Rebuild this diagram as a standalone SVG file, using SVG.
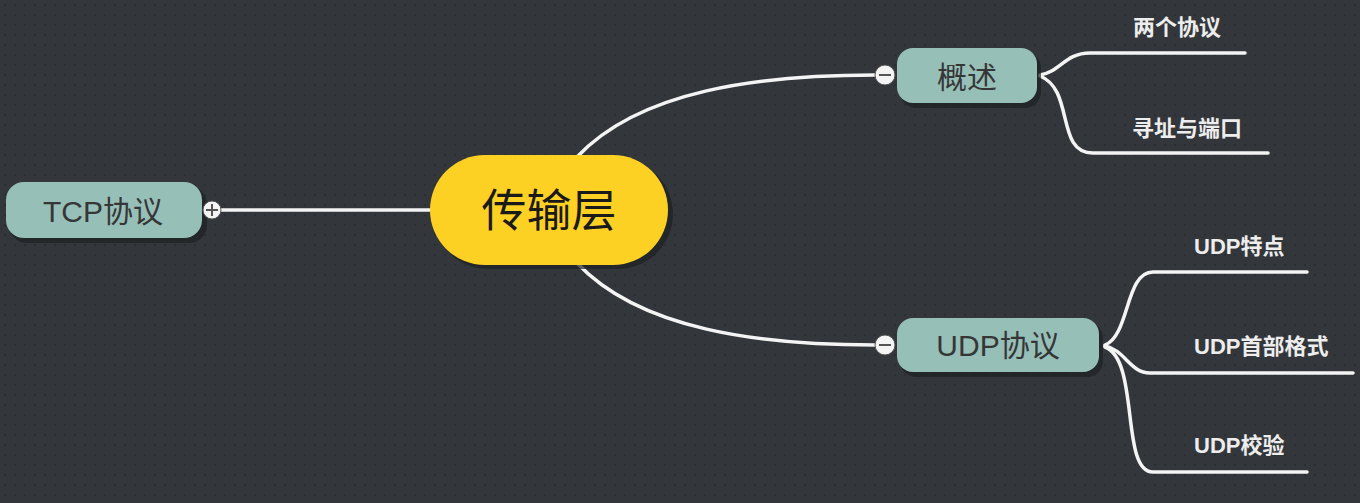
<svg xmlns="http://www.w3.org/2000/svg" width="1360" height="503" viewBox="0 0 1360 503">
<style>
.bg{fill:#33373b}
.topic{fill:#96bfb8}
.shadow{fill:#1e2124;opacity:0.7}
.ttext{font-family:"Liberation Sans","Noto Sans CJK SC",sans-serif;font-size:30px;fill:#363636;text-anchor:middle}
.ctext{font-family:"Noto Sans CJK SC",sans-serif;font-size:45px;fill:#1a1a1a;text-anchor:middle}
.stext{font-family:"Liberation Sans","Noto Sans CJK SC",sans-serif;font-size:22px;font-weight:bold;fill:#ededed}
.conn{fill:none;stroke:#f4f4f4;stroke-width:3.5;stroke-linecap:round}
.btn{fill:#f4f4f4;stroke:#555;stroke-width:1}
.btnline{stroke:#555;stroke-width:2}
</style>
<defs>
<pattern id="dots" width="10" height="10" patternUnits="userSpaceOnUse">
<rect x="4" y="4" width="2" height="2" fill="#2b2e31"/>
</pattern>
</defs>
<rect class="bg" x="0" y="0" width="1360" height="503"/>
<rect x="0" y="0" width="1360" height="503" fill="url(#dots)"/>

<g id="connectors">
<path class="conn" d="M221,210 L432,210"/>
<path class="conn" d="M577,157 C640,90 760,75 875,75"/>
<path class="conn" d="M577,263 C640,330 760,345 875,345"/>
<path class="conn" d="M1040,75 C1060,72 1065,53 1090,53 L1245,53"/>
<path class="conn" d="M1040,76 C1075,90 1055,153 1093,153 L1268,153"/>
<path class="conn" d="M1105,345 C1130,335 1125,272 1153,272 L1307,272"/>
<path class="conn" d="M1105,346 C1125,350 1130,373 1150,373 L1353,373"/>
<path class="conn" d="M1105,347 C1140,360 1120,472 1153,472 L1307,472"/>
</g>

<g id="tcp">
<rect class="shadow" x="9" y="186" width="198" height="57" rx="18"/>
<rect class="topic" x="6" y="182" width="196" height="56" rx="18"/>
<text class="ttext" x="103" y="222">TCP协议</text>
<circle class="btn" cx="212" cy="210" r="9"/>
<line class="btnline" x1="206" y1="210" x2="218" y2="210"/>
<line class="btnline" x1="212" y1="204" x2="212" y2="216"/>
</g>

<g id="center">
<rect class="shadow" x="433" y="159" width="240" height="110" rx="55"/>
<rect x="430" y="155" width="238" height="110" rx="55" fill="#fdd124"/>
<text class="ctext" x="549" y="227">传输层</text>
</g>

<g id="gaishu">
<rect class="shadow" x="900" y="52" width="141" height="56" rx="16"/>
<rect class="topic" x="897" y="48" width="140" height="55" rx="16"/>
<text class="ttext" x="967" y="88">概述</text>
<circle class="btn" cx="885" cy="75" r="10"/>
<line class="btnline" x1="879" y1="75" x2="891" y2="75"/>
</g>

<g id="udp">
<rect class="shadow" x="900" y="322" width="203" height="55" rx="16"/>
<rect class="topic" x="897" y="318" width="202" height="54" rx="16"/>
<text class="ttext" x="998" y="356">UDP协议</text>
<circle class="btn" cx="885" cy="345" r="10"/>
<line class="btnline" x1="879" y1="345" x2="891" y2="345"/>
</g>

<g id="liangge"><text class="stext" x="1133" y="35">两个协议</text></g>
<g id="xunzhi"><text class="stext" x="1132" y="136">寻址与端口</text></g>
<g id="udptd"><text class="stext" x="1194" y="254">UDP特点</text></g>
<g id="udpsb"><text class="stext" x="1194" y="354">UDP首部格式</text></g>
<g id="udpjy"><text class="stext" x="1194" y="453">UDP校验</text></g>
</svg>
